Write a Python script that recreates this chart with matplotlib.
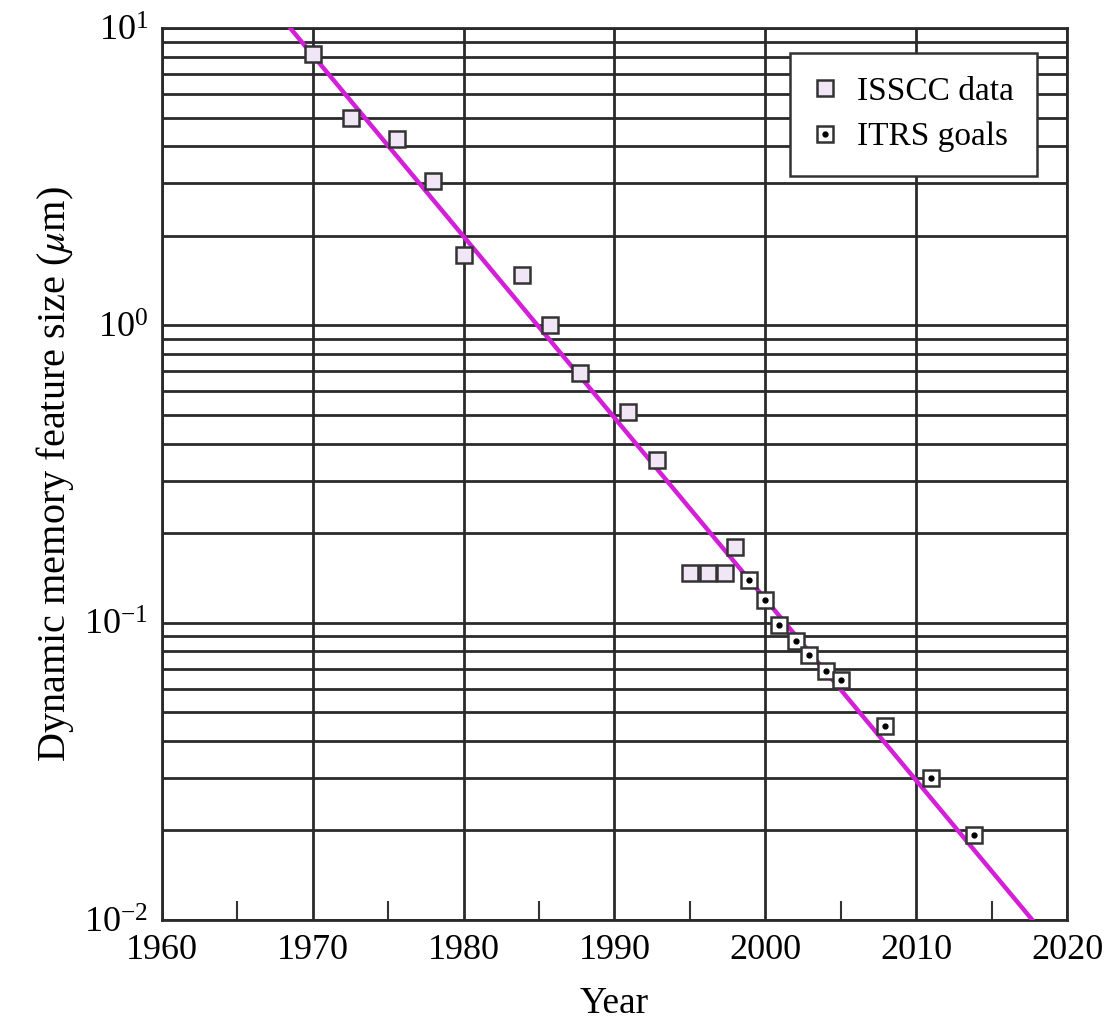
import matplotlib
matplotlib.use("Agg")
import matplotlib.pyplot as plt
from matplotlib.ticker import LogLocator, MultipleLocator, NullFormatter

# data
isscc_years = [1970, 1972.5, 1975.6, 1978, 1980, 1983.9, 1985.7, 1987.7, 1990.9, 1992.8,
               1995, 1996.2, 1997.3, 1998]
isscc_size = [8.2, 5.0, 4.25, 3.05, 1.72, 1.48, 1.0, 0.69, 0.51, 0.352,
              0.147, 0.147, 0.147, 0.18]

itrs_years = [1998.9, 2000, 2000.9, 2002, 2002.9, 2004, 2005, 2007.9, 2011, 2013.8]
itrs_size = [0.139, 0.119, 0.098, 0.087, 0.078, 0.069, 0.064, 0.045, 0.030, 0.0193]

# trend line end points
trend_years = [1968.5, 2017.7]
trend_size = [10, 0.01]

plt.rcParams['font.family'] = ['Liberation Serif', 'DejaVu Serif']
plt.rcParams['mathtext.fontset'] = 'stix'

fig = plt.figure(figsize=(11.07, 10.23), dpi=100)
ax = fig.add_axes([0.1463, 0.1007, 0.8176, 0.8719])

ax.set_yscale('log')
ax.set_xlim(1960, 2020)
ax.set_ylim(0.01, 10)

# grid: every log minor step, every decade on x
ax.yaxis.set_major_locator(LogLocator(base=10))
ax.yaxis.set_minor_locator(LogLocator(base=10, subs=range(2, 10)))
ax.yaxis.set_minor_formatter(NullFormatter())
ax.xaxis.set_major_locator(MultipleLocator(10))
ax.xaxis.set_minor_locator(MultipleLocator(5))
ax.grid(True, which='major', axis='both', color='#2a2a2a', lw=2)
ax.grid(True, which='minor', axis='y', color='#2a2a2a', lw=2)
ax.set_axisbelow(True)

ax.tick_params(axis='x', which='minor', direction='in', length=14, width=1.5,
               color='#333333', top=False)
ax.tick_params(axis='x', which='major', direction='in', length=0, pad=10)
ax.tick_params(axis='y', which='both', length=0, pad=10)
ax.tick_params(labelsize=26)

for s in ax.spines.values():
    s.set_linewidth(2)
    s.set_color('#2a2a2a')

ax.plot(trend_years, trend_size, color='#d41fd8', lw=3.2, zorder=3)

h1, = ax.plot(isscc_years, isscc_size, ls='none', marker='s', ms=11,
              mfc='#f1e6f5', mec='#333333', mew=1.8, zorder=4)
h2, = ax.plot(itrs_years, itrs_size, ls='none', marker='s', ms=11,
              mfc='white', mec='#333333', mew=1.8, zorder=4)
h3, = ax.plot(itrs_years, itrs_size, ls='none', marker='o', ms=3.5,
              color='black', zorder=5)

ax.set_xlabel('Year', fontsize=27, labelpad=14)
ax.set_ylabel(r'Dynamic memory feature size ($\mu$m)', fontsize=29, labelpad=6)

leg = ax.legend([h1, (h2, h3)], ['ISSCC data', 'ITRS goals'],
                loc='upper right', bbox_to_anchor=(0.967, 0.972), borderaxespad=0,
                fontsize=24, fancybox=False, framealpha=1, edgecolor='#333333',
                handlelength=0.7, handletextpad=0.6, borderpad=0.7, labelspacing=0.45)
leg.get_frame().set_linewidth(1.8)

fig.savefig('out.png', dpi=100, facecolor='white')
